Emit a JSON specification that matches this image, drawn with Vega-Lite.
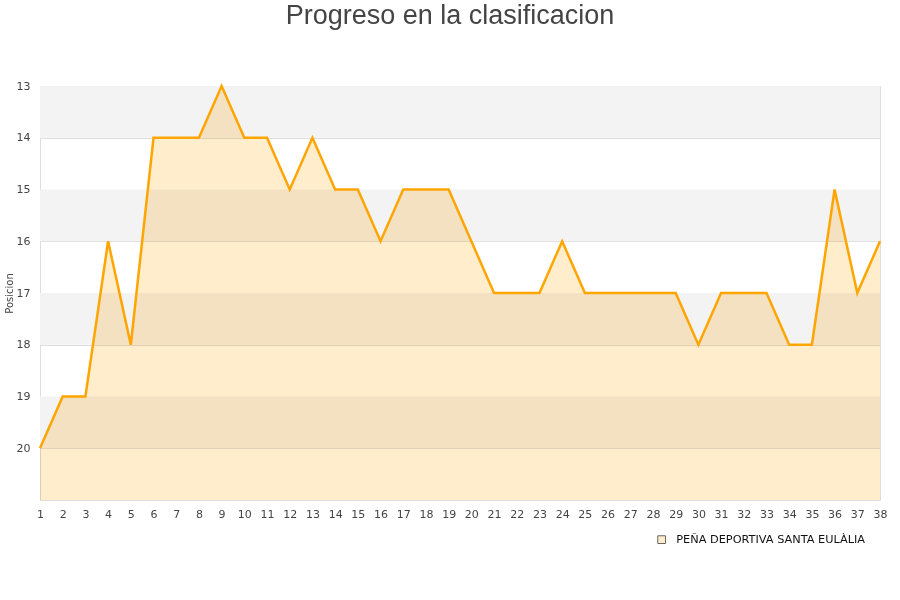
{
  "$schema": "https://vega.github.io/schema/vega-lite/v6.json",
  "autosize": {"type": "none"},
  "width": 840,
  "height": 414,
  "padding": {"left": 40, "top": 86, "right": 20, "bottom": 100},
  "background": "white",
  "title": {
    "text": "Progreso en la clasificacion",
    "font": "Liberation Sans",
    "fontSize": 27,
    "fontWeight": "normal",
    "color": "#444444",
    "anchor": "middle",
    "dx": -10,
    "offset": 50
  },
  "config": {
    "view": {"stroke": "#dddddd", "strokeWidth": 1},
    "axis": {
      "labelFont": "DejaVu Sans",
      "labelFontSize": 11,
      "labelColor": "#444444",
      "labelOverlap": false,
      "titleFont": "DejaVu Sans",
      "titleFontWeight": "normal",
      "titleColor": "#444444",
      "domain": false,
      "ticks": false
    },
    "legend": {"labelFont": "DejaVu Sans", "labelFontSize": 11.3, "labelColor": "#111111", "labelLimit": 0}
  },
  "datasets": {
    "bands": [
      {"desde": 13, "hasta": 14},
      {"desde": 15, "hasta": 16},
      {"desde": 17, "hasta": 18},
      {"desde": 19, "hasta": 20}
    ],
    "posiciones": [
      {"jornada": 1, "posicion": 20, "equipo": "PEÑA DEPORTIVA SANTA EULÀLIA"},
      {"jornada": 2, "posicion": 19, "equipo": "PEÑA DEPORTIVA SANTA EULÀLIA"},
      {"jornada": 3, "posicion": 19, "equipo": "PEÑA DEPORTIVA SANTA EULÀLIA"},
      {"jornada": 4, "posicion": 16, "equipo": "PEÑA DEPORTIVA SANTA EULÀLIA"},
      {"jornada": 5, "posicion": 18, "equipo": "PEÑA DEPORTIVA SANTA EULÀLIA"},
      {"jornada": 6, "posicion": 14, "equipo": "PEÑA DEPORTIVA SANTA EULÀLIA"},
      {"jornada": 7, "posicion": 14, "equipo": "PEÑA DEPORTIVA SANTA EULÀLIA"},
      {"jornada": 8, "posicion": 14, "equipo": "PEÑA DEPORTIVA SANTA EULÀLIA"},
      {"jornada": 9, "posicion": 13, "equipo": "PEÑA DEPORTIVA SANTA EULÀLIA"},
      {"jornada": 10, "posicion": 14, "equipo": "PEÑA DEPORTIVA SANTA EULÀLIA"},
      {"jornada": 11, "posicion": 14, "equipo": "PEÑA DEPORTIVA SANTA EULÀLIA"},
      {"jornada": 12, "posicion": 15, "equipo": "PEÑA DEPORTIVA SANTA EULÀLIA"},
      {"jornada": 13, "posicion": 14, "equipo": "PEÑA DEPORTIVA SANTA EULÀLIA"},
      {"jornada": 14, "posicion": 15, "equipo": "PEÑA DEPORTIVA SANTA EULÀLIA"},
      {"jornada": 15, "posicion": 15, "equipo": "PEÑA DEPORTIVA SANTA EULÀLIA"},
      {"jornada": 16, "posicion": 16, "equipo": "PEÑA DEPORTIVA SANTA EULÀLIA"},
      {"jornada": 17, "posicion": 15, "equipo": "PEÑA DEPORTIVA SANTA EULÀLIA"},
      {"jornada": 18, "posicion": 15, "equipo": "PEÑA DEPORTIVA SANTA EULÀLIA"},
      {"jornada": 19, "posicion": 15, "equipo": "PEÑA DEPORTIVA SANTA EULÀLIA"},
      {"jornada": 20, "posicion": 16, "equipo": "PEÑA DEPORTIVA SANTA EULÀLIA"},
      {"jornada": 21, "posicion": 17, "equipo": "PEÑA DEPORTIVA SANTA EULÀLIA"},
      {"jornada": 22, "posicion": 17, "equipo": "PEÑA DEPORTIVA SANTA EULÀLIA"},
      {"jornada": 23, "posicion": 17, "equipo": "PEÑA DEPORTIVA SANTA EULÀLIA"},
      {"jornada": 24, "posicion": 16, "equipo": "PEÑA DEPORTIVA SANTA EULÀLIA"},
      {"jornada": 25, "posicion": 17, "equipo": "PEÑA DEPORTIVA SANTA EULÀLIA"},
      {"jornada": 26, "posicion": 17, "equipo": "PEÑA DEPORTIVA SANTA EULÀLIA"},
      {"jornada": 27, "posicion": 17, "equipo": "PEÑA DEPORTIVA SANTA EULÀLIA"},
      {"jornada": 28, "posicion": 17, "equipo": "PEÑA DEPORTIVA SANTA EULÀLIA"},
      {"jornada": 29, "posicion": 17, "equipo": "PEÑA DEPORTIVA SANTA EULÀLIA"},
      {"jornada": 30, "posicion": 18, "equipo": "PEÑA DEPORTIVA SANTA EULÀLIA"},
      {"jornada": 31, "posicion": 17, "equipo": "PEÑA DEPORTIVA SANTA EULÀLIA"},
      {"jornada": 32, "posicion": 17, "equipo": "PEÑA DEPORTIVA SANTA EULÀLIA"},
      {"jornada": 33, "posicion": 17, "equipo": "PEÑA DEPORTIVA SANTA EULÀLIA"},
      {"jornada": 34, "posicion": 18, "equipo": "PEÑA DEPORTIVA SANTA EULÀLIA"},
      {"jornada": 35, "posicion": 18, "equipo": "PEÑA DEPORTIVA SANTA EULÀLIA"},
      {"jornada": 36, "posicion": 15, "equipo": "PEÑA DEPORTIVA SANTA EULÀLIA"},
      {"jornada": 37, "posicion": 17, "equipo": "PEÑA DEPORTIVA SANTA EULÀLIA"},
      {"jornada": 38, "posicion": 16, "equipo": "PEÑA DEPORTIVA SANTA EULÀLIA"}
    ]
  },
  "layer": [
    {
      "data": {"name": "bands"},
      "mark": {"type": "rect", "color": "#f3f3f3"},
      "encoding": {
        "y": {"field": "desde", "type": "quantitative", "scale": {"domain": [13, 21], "reverse": true, "zero": false, "nice": false}},
        "y2": {"field": "hasta"}
      }
    },
    {
      "data": {"name": "posiciones"},
      "mark": {"type": "area", "opacity": 1, "blend": "multiply"},
      "encoding": {
        "x": {
          "field": "jornada",
          "type": "quantitative",
          "scale": {"domain": [1, 38], "nice": false, "zero": false},
          "axis": {"values": [1,2,3,4,5,6,7,8,9,10,11,12,13,14,15,16,17,18,19,20,21,22,23,24,25,26,27,28,29,30,31,32,33,34,35,36,37,38], "title": null, "grid": false, "labelPadding": 8, "labelFlush": false, "labelOverlap": false, "labelSeparation": 0, "labelBound": false, "tickCount": 38}
        },
        "y": {"field": "posicion", "type": "quantitative"},
        "y2": {"datum": 21},
        "color": {
          "field": "equipo",
          "type": "nominal",
          "scale": {"range": ["#ffedcc"]},
          "legend": {
            "title": null,
            "orient": "none",
            "legendX": 616,
            "legendY": 448,
            "symbolType": "square",
            "symbolSize": 60,
            "labelOffset": 9,
            "symbolStrokeColor": "#666666",
            "symbolStrokeWidth": 1
          }
        }
      }
    },
    {
      "data": {"name": "posiciones"},
      "mark": {"type": "line", "color": "#ffa500", "strokeWidth": 2.5},
      "encoding": {
        "x": {
          "field": "jornada",
          "type": "quantitative",
          "axis": {"values": [1,2,3,4,5,6,7,8,9,10,11,12,13,14,15,16,17,18,19,20,21,22,23,24,25,26,27,28,29,30,31,32,33,34,35,36,37,38], "title": null, "grid": false, "labelPadding": 8, "labelFlush": false, "labelOverlap": false, "labelSeparation": 0, "labelBound": false, "tickCount": 38}
        },
        "y": {
          "field": "posicion",
          "type": "quantitative",
          "axis": {"values": [13,14,15,16,17,18,19,20], "title": "Posicion", "titleFontSize": 10, "titlePadding": 2, "gridColor": "#dddddd", "labelPadding": 10}
        }
      }
    }
  ]
}
